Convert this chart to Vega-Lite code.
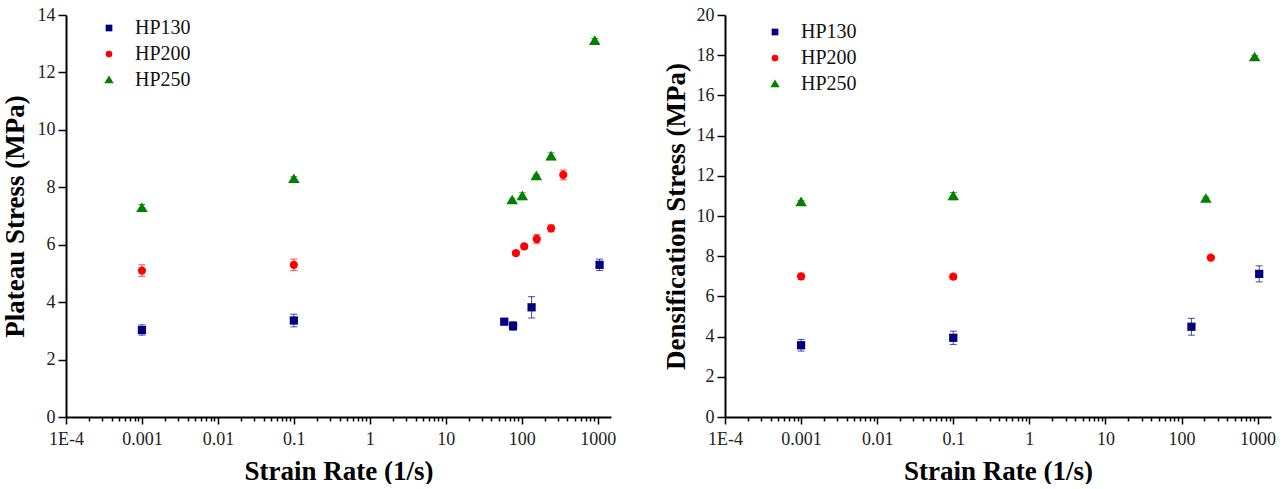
{
  "$schema": "https://vega.github.io/schema/vega-lite/v6.json",
  "padding": {"left": 1, "top": 6, "right": 0, "bottom": 0},
  "background": "white",
  "spacing": 46,
  "config": {
    "view": {"stroke": null},
    "font": "Liberation Serif",
    "axis": {
      "grid": false,
      "domainColor": "black",
      "domainWidth": 2,
      "tickColor": "black",
      "tickWidth": 1.5,
      "labelFont": "Liberation Serif",
      "labelFontSize": 18,
      "labelColor": "#222",
      "titleFont": "Liberation Serif",
      "titleFontSize": 27,
      "titleFontWeight": "bold",
      "titleColor": "black",
      "labelOverlap": false,
      "labelBound": false,
      "labelFlush": false
    },
    "legend": {
      "orient": "none",
      "title": null,
      "labelFont": "Liberation Serif",
      "labelFontSize": 20,
      "labelColor": "#111",
      "symbolSize": 45,
      "symbolOpacity": 1,
      "rowPadding": 6,
      "labelOffset": 16,
      "symbolStrokeWidth": 0,
      "padding": 0
    }
  },
  "datasets": {
    "plateau": [
      {"series": "HP130", "rate": 0.001, "stress": 3.03, "err": 0.18},
      {"series": "HP130", "rate": 0.1, "stress": 3.36, "err": 0.22},
      {"series": "HP130", "rate": 59, "stress": 3.32, "err": 0.05},
      {"series": "HP130", "rate": 77, "stress": 3.17, "err": 0.15},
      {"series": "HP130", "rate": 135, "stress": 3.82, "err": 0.37},
      {"series": "HP130", "rate": 1060, "stress": 5.3, "err": 0.2},
      {"series": "HP200", "rate": 0.001, "stress": 5.1, "err": 0.2},
      {"series": "HP200", "rate": 0.1, "stress": 5.3, "err": 0.2},
      {"series": "HP200", "rate": 84, "stress": 5.71, "err": 0.08},
      {"series": "HP200", "rate": 108, "stress": 5.94, "err": 0.08},
      {"series": "HP200", "rate": 158, "stress": 6.2, "err": 0.15},
      {"series": "HP200", "rate": 244, "stress": 6.57, "err": 0.12},
      {"series": "HP200", "rate": 353, "stress": 8.43, "err": 0.17},
      {"series": "HP250", "rate": 0.001, "stress": 7.28, "err": 0.12},
      {"series": "HP250", "rate": 0.1, "stress": 8.29, "err": 0.08},
      {"series": "HP250", "rate": 75, "stress": 7.55, "err": 0.05},
      {"series": "HP250", "rate": 102, "stress": 7.69, "err": 0.12},
      {"series": "HP250", "rate": 156, "stress": 8.39, "err": 0.05},
      {"series": "HP250", "rate": 244, "stress": 9.08, "err": 0.12},
      {"series": "HP250", "rate": 916, "stress": 13.1, "err": 0.08}
    ],
    "densification": [
      {"series": "HP130", "rate": 0.001, "stress": 3.57, "err": 0.29},
      {"series": "HP130", "rate": 0.1, "stress": 3.94, "err": 0.33},
      {"series": "HP130", "rate": 135, "stress": 4.49, "err": 0.42},
      {"series": "HP130", "rate": 1050, "stress": 7.12, "err": 0.4},
      {"series": "HP200", "rate": 0.001, "stress": 7.0, "err": 0.15},
      {"series": "HP200", "rate": 0.1, "stress": 6.98, "err": 0.12},
      {"series": "HP200", "rate": 243, "stress": 7.93, "err": 0.08},
      {"series": "HP250", "rate": 0.001, "stress": 10.69, "err": 0.08},
      {"series": "HP250", "rate": 0.1, "stress": 10.99, "err": 0.18},
      {"series": "HP250", "rate": 209, "stress": 10.86, "err": 0.08},
      {"series": "HP250", "rate": 915, "stress": 17.9, "err": 0.08}
    ]
  },
  "hconcat": [
    {
      "width": 545,
      "height": 402,
      "data": {"name": "plateau"},
      "layer": [
        {
          "mark": {"type": "errorbar", "ticks": {"size": 7, "thickness": 1}, "rule": {"strokeWidth": 1}, "opacity": 0.7},
          "encoding": {
            "x": {"field": "rate", "type": "quantitative", "title": "Strain Rate (1/s)", "scale": {"type": "log", "domain": [0.0001, 1500], "nice": false}},
            "y": {"field": "stress", "type": "quantitative", "title": "Plateau Stress (MPa)", "scale": {"domain": [0, 14], "nice": false}},
            "yError": {"field": "err"},
            "color": {"field": "series", "type": "nominal", "scale": {"domain": ["HP130", "HP200", "HP250"], "range": ["#00007f", "#ff0000", "#008000"]}}
          }
        },
        {
          "mark": {"type": "point", "filled": true, "size": 68, "opacity": 1},
          "encoding": {
            "x": {
              "field": "rate", "type": "quantitative", "title": "Strain Rate (1/s)",
              "scale": {"type": "log", "domain": [0.0001, 1500], "nice": false},
              "axis": {
                "titlePadding": 10,
                "labelPadding": 6,
                "labelFont": "Liberation Serif",
                "values": [0.0001,0.0002,0.0003,0.0004,0.0005,0.0006,0.0007,0.0008,0.0009,0.001,0.002,0.003,0.004,0.005,0.006,0.007,0.008,0.009,0.01,0.02,0.03,0.04,0.05,0.06,0.07,0.08,0.09,0.1,0.2,0.3,0.4,0.5,0.6,0.7,0.8,0.9,1,2,3,4,5,6,7,8,9,10,20,30,40,50,60,70,80,90,100,200,300,400,500,600,700,800,900,1000],
                "labelExpr": "abs(log(datum.value)/LN10 - round(log(datum.value)/LN10)) < 0.001 ? (datum.value < 0.0005 ? '1E-4' : toString(datum.value)) : ''",
                "tickSize": {"condition": {"test": "abs(log(datum.value)/LN10 - round(log(datum.value)/LN10)) < 0.001", "value": 7}, "value": 4}
              }
            },
            "y": {
              "field": "stress", "type": "quantitative", "title": "Plateau Stress (MPa)",
              "scale": {"domain": [0, 14], "nice": false},
              "axis": {
                "titlePadding": 8,
                "labelPadding": 3,
                "labelFont": "Liberation Serif",
                "values": [0,1,2,3,4,5,6,7,8,9,10,11,12,13,14],
                "labelExpr": "datum.value % 2 == 0 ? datum.label : ''",
                "tickSize": {"condition": {"test": "datum.value % 2 == 0", "value": 8}, "value": 4}
              }
            },
            "color": {"field": "series", "type": "nominal", "scale": {"domain": ["HP130", "HP200", "HP250"], "range": ["#00007f", "#ff0000", "#008000"]}, "legend": {"orient": "none", "legendX": 33, "legendY": 3, "labelFont": "Liberation Serif"}},
            "shape": {"field": "series", "type": "nominal", "scale": {"domain": ["HP130", "HP200", "HP250"], "range": ["square", "circle", "M0,-1.35L1.4,1L-1.4,1Z"]}, "legend": {"orient": "none", "legendX": 33, "legendY": 3, "labelFont": "Liberation Serif"}}
          }
        }
      ]
    },
    {
      "width": 546,
      "height": 402,
      "data": {"name": "densification"},
      "layer": [
        {
          "mark": {"type": "errorbar", "ticks": {"size": 7, "thickness": 1}, "rule": {"strokeWidth": 1}, "opacity": 0.7},
          "encoding": {
            "x": {"field": "rate", "type": "quantitative", "title": "Strain Rate (1/s)", "scale": {"type": "log", "domain": [0.0001, 1500], "nice": false}},
            "y": {"field": "stress", "type": "quantitative", "title": "Densification Stress (MPa)", "scale": {"domain": [0, 20], "nice": false}},
            "yError": {"field": "err"},
            "color": {"field": "series", "type": "nominal", "scale": {"domain": ["HP130", "HP200", "HP250"], "range": ["#00007f", "#ff0000", "#008000"]}}
          }
        },
        {
          "mark": {"type": "point", "filled": true, "size": 68, "opacity": 1},
          "encoding": {
            "x": {
              "field": "rate", "type": "quantitative", "title": "Strain Rate (1/s)",
              "scale": {"type": "log", "domain": [0.0001, 1500], "nice": false},
              "axis": {
                "titlePadding": 10,
                "labelPadding": 6,
                "labelFont": "Liberation Serif",
                "values": [0.0001,0.0002,0.0003,0.0004,0.0005,0.0006,0.0007,0.0008,0.0009,0.001,0.002,0.003,0.004,0.005,0.006,0.007,0.008,0.009,0.01,0.02,0.03,0.04,0.05,0.06,0.07,0.08,0.09,0.1,0.2,0.3,0.4,0.5,0.6,0.7,0.8,0.9,1,2,3,4,5,6,7,8,9,10,20,30,40,50,60,70,80,90,100,200,300,400,500,600,700,800,900,1000],
                "labelExpr": "abs(log(datum.value)/LN10 - round(log(datum.value)/LN10)) < 0.001 ? (datum.value < 0.0005 ? '1E-4' : toString(datum.value)) : ''",
                "tickSize": {"condition": {"test": "abs(log(datum.value)/LN10 - round(log(datum.value)/LN10)) < 0.001", "value": 7}, "value": 4}
              }
            },
            "y": {
              "field": "stress", "type": "quantitative", "title": "Densification Stress (MPa)",
              "scale": {"domain": [0, 20], "nice": false},
              "axis": {
                "titlePadding": 6,
                "labelPadding": 3,
                "labelFont": "Liberation Serif",
                "values": [0,1,2,3,4,5,6,7,8,9,10,11,12,13,14,15,16,17,18,19,20],
                "labelExpr": "datum.value % 2 == 0 ? datum.label : ''",
                "tickSize": {"condition": {"test": "datum.value % 2 == 0", "value": 8}, "value": 4}
              }
            },
            "color": {"field": "series", "type": "nominal", "scale": {"domain": ["HP130", "HP200", "HP250"], "range": ["#00007f", "#ff0000", "#008000"]}, "legend": {"orient": "none", "legendX": 40, "legendY": 7, "labelFont": "Liberation Serif"}},
            "shape": {"field": "series", "type": "nominal", "scale": {"domain": ["HP130", "HP200", "HP250"], "range": ["square", "circle", "M0,-1.35L1.4,1L-1.4,1Z"]}, "legend": {"orient": "none", "legendX": 40, "legendY": 7, "labelFont": "Liberation Serif"}}
          }
        }
      ]
    }
  ],
  "resolve": {"scale": {"color": "independent", "shape": "independent"}, "legend": {"color": "independent", "shape": "independent"}}
}
